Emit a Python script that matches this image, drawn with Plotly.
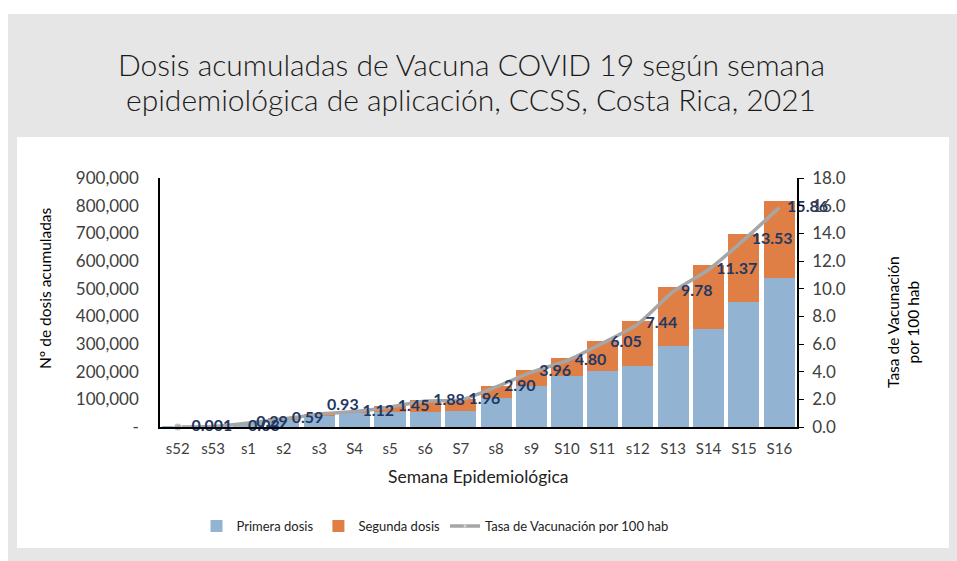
import plotly.graph_objects as go

# ---------------- data ----------------
semanas = ["s52", "s53", "s1", "s2", "s3", "S4", "s5", "s6", "S7", "s8", "s9",
           "S10", "S11", "s12", "S13", "S14", "S15", "S16"]
primera_dosis = [50, 1500, 15000, 27000, 43000, 49000, 55000, 55300, 58000, 106000,
                 149300, 185500, 203600, 221600, 293900, 354200, 450600, 539600]
segunda_dosis = [0, 0, 0, 3400, 5000, 8000, 20000, 41700, 43000, 43600,
                 55000, 62200, 108400, 162400, 210700, 232500, 247400, 278800]
tasa = [0.001, 0.03, 0.29, 0.59, 0.93, 1.12, 1.45, 1.88, 1.96, 2.90, 3.96,
        4.80, 6.05, 7.44, 9.78, 11.37, 13.53, 15.86]
tasa_labels = ["0.001", "0.03", "0.29", "0.59", "0.93", "1.12", "1.45", "1.88", "1.96",
               "2.90", "3.96", "4.80", "6.05", "7.44", "9.78", "11.37", "13.53", "15.86"]
y1_ticks = [0, 100000, 200000, 300000, 400000, 500000, 600000, 700000, 800000, 900000]
y1_ticktext = ["-", "100,000", "200,000", "300,000", "400,000", "500,000",
               "600,000", "700,000", "800,000", "900,000"]
titulo = ["Dosis acumuladas de Vacuna COVID 19 según semana",
          "epidemiológica de aplicación, CCSS, Costa Rica, 2021"]

# ---------------- layout geometry (pixels) ----------------
W, H = 957, 561
L, R, T, B = 160, 797, 178, 427  # plot area
pw, ph = R - L, B - T

def px(x):
    return (x - L) / pw

def py(y):
    return (B - y) / ph

FONT = "Lato, 'Open Sans', sans-serif"
TXT = "#404040"

# label placement (style only)
text_pos = ["middle right"] * 4 + ["top right"] + ["middle right"] * 13
pad_n = [2, 9, 2, 2, 2] + [2] * 13
label_text = ["\u00a0" * n + t for n, t in zip(pad_n, tasa_labels)]
marker_sizes = [8] + [0] * 17

fig = go.Figure()
fig.add_trace(go.Bar(x=semanas, y=primera_dosis, name="Primera dosis",
                     marker=dict(color="#93B3D3", line=dict(width=0))))
fig.add_trace(go.Bar(x=semanas, y=segunda_dosis, name="Segunda dosis",
                     marker=dict(color="#E07F45", line=dict(width=0))))
fig.add_trace(go.Scatter(x=semanas, y=tasa, name="Tasa de Vacunación por 100 hab",
                         yaxis="y2", mode="lines+markers+text", cliponaxis=False,
                         line=dict(color="#A6A6A6", width=3.5, shape="spline", smoothing=0.6),
                         marker=dict(color="#A6A6A6", size=marker_sizes),
                         text=label_text, textposition=text_pos,
                         textfont=dict(family=FONT, size=16, color="#1F3864", weight="bold")))

shapes = [
    dict(type="rect", xref="paper", yref="paper", layer="below",
         x0=px(8), x1=px(960), y0=py(564), y1=py(14),
         fillcolor="#E6E6E6", line=dict(width=0)),
    dict(type="rect", xref="paper", yref="paper", layer="below",
         x0=px(17), x1=px(949), y0=py(548), y1=py(137),
         fillcolor="#FFFFFF", line=dict(width=0)),
]

annotations = [
    dict(text=titulo[0], xref="paper", yref="paper", x=px(471), y=py(64),
         showarrow=False, xanchor="center", yanchor="middle",
         font=dict(family=FONT, size=30, color="#1A1A1A", weight=300)),
    dict(text=titulo[1], xref="paper", yref="paper", x=px(471), y=py(99),
         showarrow=False, xanchor="center", yanchor="middle",
         font=dict(family=FONT, size=30, color="#1A1A1A", weight=300)),
    dict(text="N° de dosis acumuladas", xref="paper", yref="paper",
         x=px(45), y=py(288), textangle=-90, showarrow=False,
         font=dict(family=FONT, size=15.5, color="#000000"), xanchor="center", yanchor="middle"),
    dict(text="Tasa de Vacunación<br>por 100 hab", xref="paper", yref="paper",
         x=px(903), y=py(322), textangle=-90, showarrow=False,
         font=dict(family=FONT, size=15.5, color="#000000"), xanchor="center", yanchor="middle"),
    dict(text="Semana Epidemiológica", xref="paper", yref="paper",
         x=px(478), y=py(476), showarrow=False,
         font=dict(family=FONT, size=17.5, color="#222222"), xanchor="center", yanchor="middle"),
]

fig.update_layout(
    width=W, height=H,
    margin=dict(l=L, r=W - R, t=T, b=H - B, pad=0),
    paper_bgcolor="#FFFFFF", plot_bgcolor="rgba(0,0,0,0)",
    barmode="stack", bargap=0.12,
    font=dict(family=FONT, color=TXT),
    xaxis=dict(range=[-0.5, len(semanas) - 0.5], showline=True, linecolor="#000000",
               linewidth=1.5, ticks="",
               tickfont=dict(family=FONT, size=15, color=TXT), showgrid=False,
               zeroline=False, ticklabelstandoff=7),
    yaxis=dict(range=[0, 900000], tickvals=y1_ticks, ticktext=y1_ticktext,
               showline=True, linecolor="#000000", linewidth=1.5, ticks="",
               showgrid=False, zeroline=False, ticklabelstandoff=16,
               tickfont=dict(family=FONT, size=17, color=TXT)),
    yaxis2=dict(range=[0, 18], dtick=2, tickformat=".1f", overlaying="y", side="right",
                showline=True, linecolor="#000000", linewidth=1.5, ticks="outside",
                ticklen=5, tickcolor="#000000", showgrid=False, zeroline=False,
                ticklabelstandoff=5,
                tickfont=dict(family=FONT, size=17, color=TXT)),
    legend=dict(orientation="h", x=px(435), xanchor="center", y=py(526), yanchor="middle",
                font=dict(family=FONT, size=13, color="#222222"), bgcolor="rgba(0,0,0,0)",
                traceorder="normal"),
    shapes=shapes, annotations=annotations,
)

fig.write_html("out.html", config={"displayModeBar": False},
               post_script="document.body.style.margin='0';")
